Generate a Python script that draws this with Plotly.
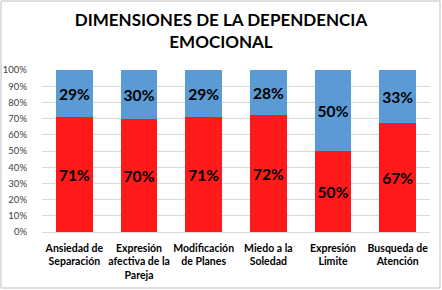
import plotly.graph_objects as go

categories = ["Ansiedad de<br>Separación", "Expresión<br>afectiva de la<br>Pareja", "Modificación<br>de Planes",
              "Miedo a la<br>Soledad", "Expresión<br>Limite", "Busqueda de<br>Atención"]
red_vals = [71, 70, 71, 72, 50, 67]
blue_vals = [29, 30, 29, 28, 50, 33]

font = "Lato, 'Open Sans', sans-serif"

fig = go.Figure()
fig.add_trace(go.Bar(x=categories, y=red_vals, marker=dict(color="#FF1A1A", line=dict(width=0)),
                     text=[f"{v}%" for v in red_vals], textposition="inside", insidetextanchor="middle",
                     textfont=dict(color="black", size=20, family=font, weight="bold"),
                     textangle=0, showlegend=False))
fig.add_trace(go.Bar(x=categories, y=blue_vals, marker=dict(color="#5B9BD5", line=dict(width=0)),
                     text=[f"{v}%" for v in blue_vals], textposition="inside", insidetextanchor="middle",
                     textfont=dict(color="black", size=16, family=font, weight="bold"),
                     textangle=0, showlegend=False))

fig.update_layout(
    barmode="stack", bargap=0.43,
    width=442, height=290,
    margin=dict(l=42, r=12, t=70, b=58, autoexpand=False),
    paper_bgcolor="white", plot_bgcolor="white",
    title=dict(text="<b>DIMENSIONES DE LA DEPENDENCIA<br>EMOCIONAL</b>", x=0.5, xanchor="center", xref="container",
               yref="container", y=1 - 26 / 290, yanchor="top", font=dict(family=font, size=17, color="black")),
    uniformtext=dict(mode=False),
    shapes=[dict(type="rect", xref="paper", yref="paper", x0=-41/388, x1=1+10/388, y0=-56/162, y1=1+69/162,
                 line=dict(color="#BFBFBF", width=1), fillcolor="rgba(0,0,0,0)")],
)
fig.update_yaxes(range=[0, 100], dtick=10, ticksuffix="%", showgrid=True, gridcolor="#D9D9D9",
                 tickfont=dict(family=font, size=9.5, color="#404040"), zeroline=False, ticks="",
                 ticklabelstandoff=14, automargin=False)
fig.update_xaxes(showline=True, linecolor="#D9D9D9", tickfont=dict(family=font, size=10.5, color="black", weight="bold"),
                 tickangle=0, ticks="", automargin=False, ticklabelstandoff=6)

fig.write_html("out.html", config={"displayModeBar": False},
               post_script="document.body.style.margin='0';document.body.style.overflow='hidden';")
